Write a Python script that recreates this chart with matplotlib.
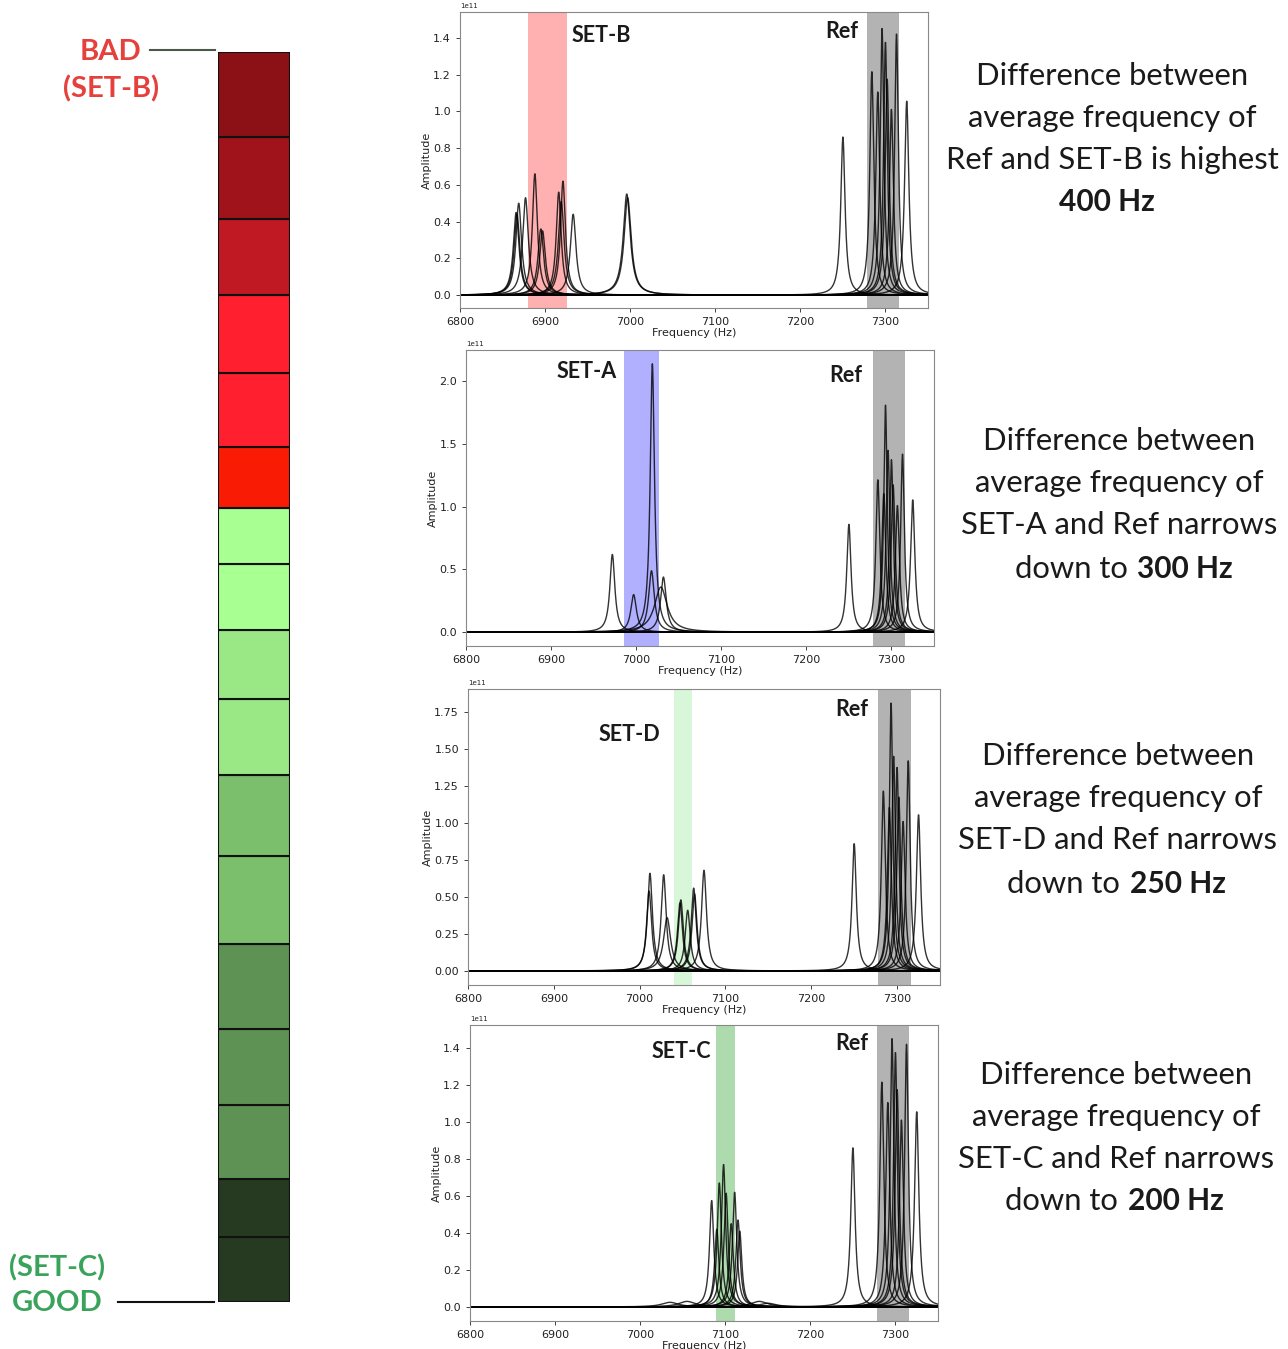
import numpy as np
import matplotlib
matplotlib.use("Agg")
import matplotlib.pyplot as plt

W, H = 1288, 1349
SCALE = 1e11

# ---------------- data ----------------
# colour scale segments, top (bad) to bottom (good)
seg_heights = [85, 82, 76, 78, 74, 61, 56, 66, 69, 76, 81, 88, 85, 76, 74, 58, 65]
seg_colors = ["#8B1117", "#A0131B", "#C01923", "#FF1F2E", "#FF1F2E", "#FA1B05",
              "#A8FF92", "#A8FF92", "#9AE885", "#9AE885", "#7BBE6B", "#7BBE6B",
              "#5E9154", "#5E9154", "#5E9154", "#253A20", "#253A20"]

freq_ticks = [6800, 6900, 7000, 7100, 7200, 7300]

# reference peaks (Hz, amplitude x1e11, half width Hz)
ref_freq = [7250, 7284, 7291, 7296, 7300, 7302, 7307, 7313, 7325]
ref_amp = [0.86, 1.215, 1.105, 1.45, 1.375, 1.175, 1.01, 1.42, 1.055]
ref_width = [3.0, 2.8, 2.8, 2.6, 2.6, 2.8, 2.8, 2.6, 3.0]
ref_extra_freq = [7293]
ref_extra_amp = [1.81]
ref_extra_width = [2.4]
ref_band = (7278, 7316)

setb_freq = [6866, 6867, 6869, 6877, 6888, 6895, 6897, 6916, 6919, 6921, 6933, 6996, 6997]
setb_amp = [0.45, 0.44, 0.50, 0.53, 0.66, 0.36, 0.35, 0.56, 0.51, 0.62, 0.44, 0.55, 0.53]
setb_width = [4, 4, 4, 4, 3.5, 4, 4, 3.5, 4, 3.5, 4, 5, 5]
setb_band = (6880, 6926)

seta_freq = [6972, 6997, 7019, 7018, 7029, 7032]
seta_amp = [0.62, 0.30, 2.14, 0.49, 0.36, 0.44]
seta_width = [3.5, 4, 3, 4, 9, 4]
seta_band = (6986, 7027)

setd_freq = [7011, 7012, 7028, 7032, 7047, 7048, 7056, 7063, 7064, 7075]
setd_amp = [0.54, 0.66, 0.65, 0.36, 0.46, 0.48, 0.41, 0.56, 0.52, 0.68]
setd_width = [3.5, 3.5, 3.5, 5, 3.5, 3.5, 3.5, 3.5, 3.5, 3.5]
setd_band = (7040, 7061)

setc_freq = [7084, 7090, 7093, 7098, 7101, 7107, 7111, 7115, 7117, 7035, 7055, 7140, 7150]
setc_amp = [0.575, 0.42, 0.67, 0.77, 0.615, 0.45, 0.62, 0.47, 0.41, 0.025, 0.03, 0.03, 0.02]
setc_width = [3, 3, 3, 3, 3, 3, 3, 3, 3, 12, 12, 12, 12]
setc_band = (7089, 7111)

panels = [
    dict(name="SET-B", freq=setb_freq, amp=setb_amp, width=setb_width, band=setb_band,
         band_color="#FFB0B0", extra=False, yticks=[0, .2, .4, .6, .8, 1.0, 1.2, 1.4],
         ylim=(-0.07, 1.54), box=(460, 12, 928, 308),
         label_xy=(601, 35), ref_xy=(842, 32)),
    dict(name="SET-A", freq=seta_freq, amp=seta_amp, width=seta_width, band=seta_band,
         band_color="#B0B0FF", extra=True, yticks=[0, .5, 1.0, 1.5, 2.0],
         ylim=(-0.11, 2.25), box=(466, 350, 934, 646),
         label_xy=(587, 371), ref_xy=(846, 375)),
    dict(name="SET-D", freq=setd_freq, amp=setd_amp, width=setd_width, band=setd_band,
         band_color="#D8F7D8", extra=True, yticks=[0, .25, .5, .75, 1.0, 1.25, 1.5, 1.75],
         ylim=(-0.095, 1.905), box=(468, 689, 940, 985),
         label_xy=(629, 734), ref_xy=(852, 709)),
    dict(name="SET-C", freq=setc_freq, amp=setc_amp, width=setc_width, band=setc_band,
         band_color="#AEDBAE", extra=False, yticks=[0, .2, .4, .6, .8, 1.0, 1.2, 1.4],
         ylim=(-0.076, 1.524), box=(470, 1025, 938, 1321),
         label_xy=(681, 1051), ref_xy=(852, 1044)),
]

right_texts = [
    (1112, [76, 118, 160], ["Difference between", "average frequency of",
                            "Ref and SET-B is highest"], None, "400 Hz", (1107, 202)),
    (1119, [441, 483, 525], ["Difference between", "average frequency of",
                             "SET-A and Ref narrows"], (1128, 569), "300 Hz", (1137, 569)),
    (1118, [756, 798, 840], ["Difference between", "average frequency of",
                             "SET-D and Ref narrows"], (1120, 884), "250 Hz", (1130, 884)),
    (1116, [1075, 1117, 1159], ["Difference between", "average frequency of",
                                "SET-C and Ref narrows"], (1118, 1201), "200 Hz", (1128, 1201)),
]

# ---------------- drawing ----------------
CAL = ["Lato", "DejaVu Sans"]
fig = plt.figure(figsize=(W / 100, H / 100), dpi=100)


def fx(x):
    return x / W


def fy(y):
    return 1 - y / H


def lorentz(f, f0, a, g):
    return a / (1 + ((f - f0) / g) ** 2)


f = np.linspace(6800, 7350, 6000)

for p in panels:
    x0, y0, x1, y1 = p["box"]
    ax = fig.add_axes([fx(x0), fy(y1), (x1 - x0) / W, (y1 - y0) / H])
    ax.axvspan(*p["band"], color=p["band_color"], lw=0, zorder=0)
    ax.axvspan(*ref_band, color="#B3B3B3", lw=0, zorder=0)
    rf, ra, rw = list(ref_freq), list(ref_amp), list(ref_width)
    if p["extra"]:
        rf += ref_extra_freq
        ra += ref_extra_amp
        rw += ref_extra_width
    for f0, a, g in zip(p["freq"] + rf, p["amp"] + ra, p["width"] + rw):
        ax.plot(f, lorentz(f, f0, a, g) * SCALE, color="black", lw=1.0, alpha=0.8, zorder=2)
    ax.set_xlim(6800, 7350)
    ax.set_ylim(p["ylim"][0] * SCALE, p["ylim"][1] * SCALE)
    ax.set_xticks(freq_ticks)
    ax.set_yticks([v * SCALE for v in p["yticks"]])
    ax.tick_params(labelsize=8, length=3, width=0.6, colors="#222222")
    ax.yaxis.get_offset_text().set_fontsize(5)
    ax.set_xlabel("Frequency (Hz)", fontsize=8, labelpad=1, color="#222222")
    ax.set_ylabel("Amplitude", fontsize=8, labelpad=1, color="#222222")
    for s in ax.spines.values():
        s.set_color("#888888")
        s.set_linewidth(0.8)
    fig.text(fx(p["label_xy"][0]), fy(p["label_xy"][1]), p["name"], family=CAL,
             fontweight="bold", fontsize=15.5, ha="center", va="center", color="#1a1a1a")
    fig.text(fx(p["ref_xy"][0]), fy(p["ref_xy"][1]), "Ref", family=CAL,
             fontweight="bold", fontsize=15.5, ha="center", va="center", color="#1a1a1a")

# colour scale
cax = fig.add_axes([fx(218), fy(1302), 72 / W, 1250 / H])
bottoms = np.cumsum([0] + seg_heights[::-1])[:-1]
cax.bar([0] * len(seg_heights), seg_heights[::-1], bottom=bottoms, width=1.0,
        color=seg_colors[::-1], edgecolor="#111111", linewidth=1.5)
cax.set_xlim(-0.5, 0.5)
cax.set_ylim(0, sum(seg_heights))
cax.axis("off")

fig.add_artist(plt.Line2D([fx(150), fx(215)], [fy(50), fy(50)], color="#4a5848", lw=1.5))
fig.add_artist(plt.Line2D([fx(118), fx(214)], [fy(1302), fy(1302)], color="#111111", lw=1.5))

red = "#E5403C"
green = "#3AA35B"
fig.text(fx(110), fy(52), "BAD", family=CAL, fontweight="bold", fontsize=21,
         color=red, ha="center", va="center")
fig.text(fx(111), fy(89), "(SET-B)", family=CAL, fontweight="bold", fontsize=21,
         color=red, ha="center", va="center")
fig.text(fx(57), fy(1268), "(SET-C)", family=CAL, fontweight="bold", fontsize=21,
         color=green, ha="center", va="center")
fig.text(fx(57), fy(1303), "GOOD", family=CAL, fontweight="bold", fontsize=21,
         color=green, ha="center", va="center")

NORM_FS = 22.3
BOLD_FS = 21.5
for cx, ys, lines, down_xy, bold, bold_xy in right_texts:
    for y, t in zip(ys, lines):
        fig.text(fx(cx), fy(y), t, family=CAL, fontsize=NORM_FS, ha="center", va="center",
                 color="#1a1a1a")
    if down_xy is None:
        fig.text(fx(bold_xy[0]), fy(bold_xy[1]), bold, family=CAL, fontsize=BOLD_FS,
                 fontweight="bold", ha="center", va="center", color="#1a1a1a")
    else:
        fig.text(fx(down_xy[0]), fy(down_xy[1]), "down to", family=CAL, fontsize=NORM_FS,
                 ha="right", va="center", color="#1a1a1a")
        fig.text(fx(bold_xy[0]), fy(bold_xy[1]), bold, family=CAL, fontsize=BOLD_FS,
                 fontweight="bold", ha="left", va="center", color="#1a1a1a")

fig.savefig("out.png", dpi=100)
